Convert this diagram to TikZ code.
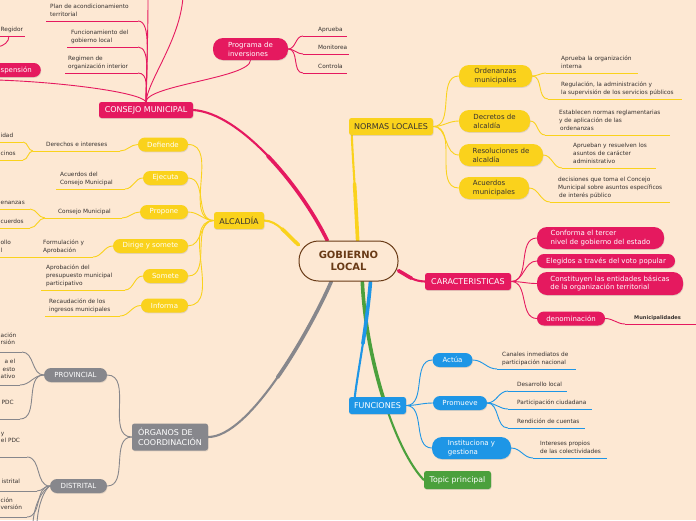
\documentclass[tikz,border=0pt]{standalone}
\usepackage{fontspec}
\setmainfont{DejaVu Sans}
\usetikzlibrary{shadows}
\definecolor{bgc}{RGB}{253,232,211}
\definecolor{pk}{RGB}{229,25,95}
\definecolor{yl}{RGB}{250,210,28}
\definecolor{bl}{RGB}{30,150,230}
\definecolor{gn}{RGB}{75,160,60}
\definecolor{gy}{RGB}{135,135,140}
\definecolor{brn}{RGB}{105,58,22}
\definecolor{tx}{RGB}{55,50,48}
\pgfdeclarelayer{bgl}
\pgfdeclarelayer{lin}
\pgfsetlayers{bgl,lin,main}
\newcommand\leafA[7]{%
  \coordinate (#1L) at (#3,#5);
  \coordinate (#1R) at (#4,#5);
  \node[leaf, anchor=south west] (#1) at (#6,#5-2.9) {#7\rule[-1.6pt]{0pt}{1.6pt}};
  \begin{pgfonlayer}{lin}\draw[ul, draw=#2] (#1L) -- (#1R);\end{pgfonlayer}}
\newcommand\leafB[9]{%
  \coordinate (#1L) at (#3,#5);
  \coordinate (#1R) at (#4,#5);
  \node[leaf, anchor=south west, align=#8] (#1) at (#6,#7) {#9\rule[-1.6pt]{0pt}{1.6pt}};
  \begin{pgfonlayer}{lin}\draw[ul, draw=#2] (#1L) -- (#1R);\end{pgfonlayer}}
\tikzset{
 sh/.style={drop shadow={opacity=0.22, shadow xshift=0.5pt, shadow yshift=-0.9pt}},
 bx/.style={inner sep=0pt, align=center, sh},
 mb/.style={bx, rounded corners=2.5pt, font=\fontsize{8}{9.8}\selectfont},
 pla/.style={bx, rounded corners=7pt, font=\fontsize{7}{8.6}\selectfont},
 plb/.style={bx, rounded corners=10pt, align=left, font=\fontsize{7}{8.8}\selectfont},
 leaf/.style={inner sep=0pt, align=left, text=tx, font=\fontsize{5.8}{7.8}\selectfont},
 ul/.style={line width=0.8pt},
 br/.style={line width=0.9pt},
 th/.style={line width=2.1pt, line cap=round},
 thk/.style={line width=3.6pt, line cap=round},
}
\begin{document}
\begin{tikzpicture}[x=1pt,y=-1pt]
\useasboundingbox (0,0) rectangle (696,520);
\begin{pgfonlayer}{bgl}
\fill[bgc] (0,0) rectangle (696,520);
\end{pgfonlayer}

% ---------- central node ----------
\node[inner sep=0pt, align=center, fill=bgc, draw=brn, line width=1pt, rounded corners=19.5pt,
      minimum width=99pt, minimum height=40pt, text=brn, font=\fontsize{10}{12}\selectfont\bfseries] (gob) at (348.5,261) {GOBIERNO\\LOCAL};

% ---------- CONSEJO MUNICIPAL ----------
\node[mb, fill=pk, text=white, minimum width=94pt, minimum height=16pt] (cons) at (146,110) {CONSEJO MUNICIPAL};
\node[plb, fill=pk, text=white, minimum width=75pt, minimum height=22pt] (prog) at (250.5,49) {Programa de\\inversiones};
\node[pla, fill=pk, text=white, anchor=east, inner xsep=9pt, minimum height=14pt] (spn) at (41,70) {spensión};
\coordinate (topA) at (148,-3);
\coordinate (topB) at (183,-3);
\coordinate (lftA) at (-3,80);
\leafA{plan}{pk}{46}{138}{21}{50}{Plan de acondicionamiento\\territorial}
\leafA{func}{pk}{67}{138}{47}{71}{Funcionamiento del\\gobierno local}
\leafA{regi}{pk}{65}{138}{73}{68}{Regimen de\\organización interior}
\leafA{regd}{pk}{-3}{25}{36}{0.5}{Regidor}
\coordinate (regC) at (9,36);
\coordinate (regD) at (-3,47);
\leafA{apr}{pk}{303}{347}{36}{318}{Aprueba}
\leafA{mon}{pk}{303}{349}{54}{318}{Monitorea}
\leafA{ctl}{pk}{303}{347}{73}{318}{Controla}

% ---------- ALCALDIA ----------
\node[mb, fill=yl, text=tx, minimum width=50pt, minimum height=17pt] (alc) at (239,220.5) {ALCALDÍA};
\node[pla, fill=yl, text=white, minimum width=50pt, minimum height=14pt] (def) at (163,144.5) {Defiende};
\node[pla, fill=yl, text=white, minimum width=45pt, minimum height=14pt] (eje) at (165.5,178) {Ejecuta};
\node[pla, fill=yl, text=white, minimum width=48pt, minimum height=14pt] (pro) at (164,212) {Propone};
\node[pla, fill=yl, text=white, minimum width=75pt, minimum height=14pt] (dir) at (150.5,246) {Dirige y somete};
\node[pla, fill=yl, text=white, minimum width=45pt, minimum height=14pt] (som) at (165.5,276) {Somete};
\node[pla, fill=yl, text=white, minimum width=47pt, minimum height=14pt] (inf) at (164.5,305.5) {Informa};
\leafA{der}{yl}{33}{120}{151}{46}{Derechos e intereses}
\leafB{ida}{yl}{-3}{23}{142}{0.5}{139.1}{left}{idad}
\leafB{cin}{yl}{-3}{23}{160}{0.5}{157.1}{left}{cinos}
\leafA{acu}{yl}{56}{125}{189}{60}{Acuerdos del\\Consejo Municipal}
\leafA{cmu}{yl}{45}{122}{218}{58}{Consejo Municipal}
\leafB{ena}{yl}{-3}{30}{209}{0.5}{206.1}{left}{enanzas}
\leafB{cue}{yl}{-3}{30}{228}{0.5}{225.1}{left}{cuerdos}
\leafA{frm}{yl}{-3}{93}{257}{43}{Formulación y\\Aprobación}
\node[leaf, anchor=south west, align=left] (ollo) at (0.5,254.1) {ollo\\l\rule[-1.6pt]{0pt}{1.6pt}};
\leafA{apb}{yl}{41}{125}{290}{46}{Aprobación del\\presupuesto municipal\\participativo}
\leafA{rec}{yl}{45}{120}{316}{49}{Recaudación de los\\ingresos municipales}

% ---------- NORMAS LOCALES ----------
\node[mb, fill=yl, text=tx, minimum width=84pt, minimum height=17pt] (nor) at (391,126.5) {NORMAS LOCALES};
\node[plb, fill=yl, text=tx, minimum width=73pt, minimum height=22pt] (ord) at (495.5,76) {Ordenanzas\\municipales};
\node[plb, fill=yl, text=tx, minimum width=71pt, minimum height=22pt] (dec) at (494.5,121) {Decretos de\\alcaldía};
\node[plb, fill=yl, text=tx, minimum width=84pt, minimum height=22pt] (res) at (501,155) {Resoluciones de\\alcaldía};
\node[plb, fill=yl, text=tx, minimum width=70pt, minimum height=22pt] (acm) at (494,188) {Acuerdos\\municipales};
\leafA{apo}{yl}{546}{638}{73}{561}{Aprueba la organización\\interna}
\leafA{rgl}{yl}{548}{682}{99}{561}{Regulación, la administración y\\la supervisión de los servicios públicos}
\leafA{est}{yl}{545}{670}{135}{559}{Establecen normas reglamentarias\\y de aplicación de las\\\hspace*{1pt}ordenanzas}
\leafA{apn}{yl}{562}{656}{168}{573}{Aprueban y resuelven los\\asuntos de carácter\\administrativo}
\leafA{dcs}{yl}{550}{670}{202}{558}{decisiones que toma el Concejo\\Municipal sobre asuntos específicos\\\hspace*{1pt}de interés público}

% ---------- CARACTERISTICAS ----------
\node[mb, fill=pk, text=white, minimum width=86pt, minimum height=17pt] (car) at (468,281.5) {CARACTERISTICAS};
\node[plb, fill=pk, text=white, minimum width=127pt, minimum height=22pt] (ca1) at (600.5,238) {Conforma el tercer\\nivel de gobierno del estado};
\node[pla, fill=pk, text=white, minimum width=138pt, minimum height=14pt] (ca2) at (606,261) {Elegidos a través del voto popular};
\node[plb, fill=pk, text=white, minimum width=146pt, minimum height=23pt] (ca3) at (610,283.5) {Constituyen las entidades básicas\\de la organización territorial};
\node[pla, fill=pk, text=white, minimum width=68pt, minimum height=14pt] (ca4) at (571,318.5) {denominación};
\leafA{mun}{pk}{625}{700}{324}{634}{{\fontsize{5.1}{6}\selectfont\bfseries Municipalidades}}

% ---------- FUNCIONES ----------
\node[mb, fill=bl, text=white, minimum width=57pt, minimum height=17pt] (fun) at (377.5,405.5) {FUNCIONES};
\node[pla, fill=bl, text=white, minimum width=40pt, minimum height=14pt] (act) at (452.5,360) {Actúa};
\node[pla, fill=bl, text=white, minimum width=54pt, minimum height=14pt] (prm) at (460,403) {Promueve};
\node[plb, fill=bl, text=white, minimum width=79pt, minimum height=22pt] (ins) at (471.5,448) {Instituciona y\\gestiona};
\leafA{can}{bl}{497}{576}{369}{502}{Canales inmediatos de\\participación nacional}
\leafA{des}{bl}{508}{567}{391}{517}{Desarrollo local}
\leafA{par}{bl}{508}{592}{409}{517}{Participación ciudadana}
\leafA{ren}{bl}{508}{585}{428}{517}{Rendición de cuentas}
\leafA{int}{bl}{533}{607}{458}{540}{Intereses propios\\de las colectividades}

% ---------- Topic principal ----------
\node[mb, fill=gn, text=white, minimum width=67pt, minimum height=18pt, font=\fontsize{7.8}{9}\selectfont] (tpc) at (457.5,480) {Topic principal};

% ---------- ORGANOS ----------
\node[mb, fill=gy, text=white, align=left, minimum width=76pt, minimum height=27pt] (org) at (170,437) {ÓRGANOS DE\\COORDINACIÓN};
\node[pla, fill=gy, text=white, minimum width=63pt, minimum height=14pt] (prv) at (75.5,375) {PROVINCIAL};
\node[pla, fill=gy, text=white, minimum width=57pt, minimum height=14pt] (dis) at (78.5,486) {DISTRITAL};
\leafB{pa}{gy}{-3}{22}{352}{0.5}{346.7}{left}{ación\\rsión}
\leafB{pb}{gy}{-3}{20}{385}{0.5}{380.7}{right}{a el\\esto\\ativo}
\leafB{pc}{gy}{-3}{20}{419}{1.5}{406.5}{right}{PDC}
\leafB{da}{gy}{-3}{27}{457}{0.8}{444.7}{left}{y\\el PDC}
\leafB{db}{gy}{-3}{37}{491}{1.5}{485.7}{left}{istrital}
\leafB{dc}{gy}{-3}{27}{517}{0.5}{511.7}{left}{ción\\versión}
\coordinate (dbA) at (33,523);
\coordinate (dbB) at (37,523);

% mid points of the main branches (for the thicker inner half)
\coordinate (mCons) at (267.6,155.75);
\coordinate (mAlc) at (281.9,228.8);
\coordinate (mNor) at (354.55,183.9);
\coordinate (mCar) at (411.5,278.2);
\coordinate (mTpc) at (383.6,398.9);
\coordinate (mFun) at (362.9,343.5);
\coordinate (mOrg) at (277.5,377.4);

% ---------- connectors ----------
\begin{pgfonlayer}{lin}
% main branches (tapered: full path + thicker inner half)
\draw[th, pk] (gob.136) .. controls (300,185) and (240,113) .. (cons.east);
\draw[thk, pk] (gob.136) .. controls (313.9,213) and (291.95,181) .. (mCons);
\draw[th, yl] (gob.162) .. controls (286,234) and (278,221) .. (alc.east);
\draw[thk, yl] (gob.162) .. controls (292.5,239.5) and (287.25,233.5) .. (mAlc);
\draw[th, yl] (gob.66) .. controls (356,200) and (353,165) .. ([xshift=3pt]nor.south west);
\draw[thk, yl] (gob.66) .. controls (356.7,220.5) and (355.6,201.5) .. (mNor);
\draw[th, pk] (gob.-11) .. controls (410,277) and (413,281) .. (car.west);
\draw[thk, pk] (gob.-11) .. controls (404,273.8) and (407.75,276.4) .. (mCar);
\draw[th, gn] (gob.-56) .. controls (366,360) and (395,450) .. (tpc.west);
\draw[thk, gn] (gob.-56) .. controls (364,320.5) and (372.25,362.75) .. (mTpc);
\draw[th, bl] (gob.-43) .. controls (368,320) and (358,370) .. ([xshift=6pt]fun.north west);
\draw[thk, bl] (gob.-43) .. controls (369,300.5) and (366,322.75) .. (mFun);
\draw[th, gy] (gob.-130) .. controls (310,330) and (250,437) .. (org.east);
\draw[thk, gy] (gob.-130) .. controls (320.85,305.5) and (300.4,344.5) .. (mOrg);
% consejo
\draw[br, pk] (cons.north) .. controls (146,60) and (152,21) .. (planR);
\draw[br, pk] (cons.north) .. controls (146,80) and (151,47) .. (funcR);
\draw[br, pk] (cons.north) .. controls (146,90) and (149,73) .. (regiR);
\draw[br, pk] (cons.north) .. controls (147,60) and (148,30) .. (topA);
\draw[br, pk] (cons.north) .. controls (148,80) and (180,40) .. (topB);
\draw[br, pk] (cons.north) .. controls (140,92) and (60,82) .. (lftA);
\draw[br, pk] (cons.north) .. controls (147,85) and (250,78) .. (prog.south);
\draw[br, pk] (regC) .. controls (9,42) and (4,46) .. (regD);
\draw[br, pk] (prog.east) to[out=0,in=180] (aprL);
\draw[br, pk] (prog.east) to[out=0,in=180] (monL);
\draw[br, pk] (prog.east) to[out=0,in=180] (ctlL);
% alcaldia
\foreach \c in {def,eje,pro,dir,som,inf}
  \draw[br, yl] (alc.west) to[out=180,in=0] (\c.east);
\draw[br, yl] (def.west) to[out=180,in=0] (derR);
\draw[br, yl] (derL) to[out=180,in=0] (idaR);
\draw[br, yl] (derL) to[out=180,in=0] (cinR);
\draw[br, yl] (eje.west) to[out=180,in=0] (acuR);
\draw[br, yl] (pro.west) to[out=180,in=0] (cmuR);
\draw[br, yl] (cmuL) to[out=180,in=0] (enaR);
\draw[br, yl] (cmuL) to[out=180,in=0] (cueR);
\draw[br, yl] (dir.west) to[out=180,in=0] (frmR);
\draw[br, yl] (som.west) to[out=180,in=0] (apbR);
\draw[br, yl] (inf.west) to[out=180,in=0] (recR);
% normas
\foreach \c in {ord,dec,res,acm}
  \draw[br, yl] (nor.east) to[out=0,in=180] (\c.west);
\draw[br, yl] (ord.east) to[out=0,in=180] (apoL);
\draw[br, yl] (ord.east) to[out=0,in=180] (rglL);
\draw[br, yl] (dec.east) to[out=0,in=180] (estL);
\draw[br, yl] (res.east) to[out=0,in=180] (apnL);
\draw[br, yl] (acm.east) to[out=0,in=180] (dcsL);
% caracteristicas
\foreach \c in {ca1,ca2,ca3,ca4}
  \draw[br, pk] (car.east) to[out=0,in=180] (\c.west);
\draw[br, pk] (ca4.east) to[out=0,in=180] (munL);
% funciones
\foreach \c in {act,prm,ins}
  \draw[br, bl] (fun.east) to[out=0,in=180] (\c.west);
\draw[br, bl] (act.east) to[out=0,in=180] (canL);
\draw[br, bl] (prm.east) to[out=0,in=180] (desL);
\draw[br, bl] (prm.east) to[out=0,in=180] (parL);
\draw[br, bl] (prm.east) to[out=0,in=180] (renL);
\draw[br, bl] (ins.east) to[out=0,in=180] (intL);
% organos
\draw[br, gy] (org.west) to[out=180,in=0] (prv.east);
\draw[br, gy] (org.west) to[out=180,in=0] (dis.east);
\draw[br, gy] (prv.west) to[out=180,in=0] (paR);
\draw[br, gy] (prv.west) to[out=180,in=0] (pbR);
\draw[br, gy] (prv.west) to[out=180,in=0] (pcR);
\draw[br, gy] (dis.west) to[out=180,in=0] (daR);
\draw[br, gy] (dis.west) to[out=180,in=0] (dbR);
\draw[br, gy] (dis.west) to[out=180,in=0] (dcR);
\draw[br, gy] (dis.west) .. controls (42,490) and (34,505) .. (dbA);
\draw[br, gy] (dis.west) .. controls (44,490) and (38,505) .. (dbB);
\end{pgfonlayer}
\end{tikzpicture}
\end{document}
